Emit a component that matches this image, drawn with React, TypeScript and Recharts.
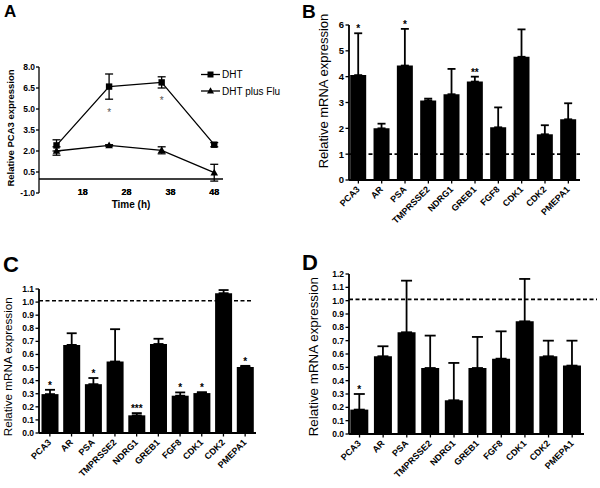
import React from 'react';
import {
  ComposedChart,
  Line,
  Bar,
  XAxis,
  YAxis,
  ErrorBar,
  ReferenceLine,
  LabelList,
} from 'recharts';

const FONT = '"Liberation Sans", Arial, Helvetica, sans-serif';

// ---------- Panel A ----------
const timeHours = [12, 24, 36, 48];
const dhtValues = [2.4, 6.6, 6.9, 2.45];
const dhtErrors = [0.4, 0.9, 0.4, 0.15];
const fluValues = [2.0, 2.4, 2.05, 0.45];
const fluErrors = [0.3, 0.05, 0.25, 0.6];
const starLevels: (number | null)[] = [null, 4.9, 5.8, null];
const timeTicks = [18, 28, 38, 48];
const pca3Ticks = [-1, 0.5, 2, 3.5, 5, 6.5, 8];
const seriesNames = ['DHT', 'DHT plus Flu'];

// ---------- Panels B, C, D ----------
const genes = ['PCA3', 'AR', 'PSA', 'TMPRSSE2', 'NDRG1', 'GREB1', 'FGF8', 'CDK1', 'CDK2', 'PMEPA1'];

const bValues = [4.06, 2.0, 4.43, 3.08, 3.32, 3.81, 2.04, 4.77, 1.77, 2.35];
const bErrTops = [5.68, 2.18, 5.85, 3.15, 4.3, 4.0, 2.81, 5.83, 2.12, 2.97];
const bStars = ['*', '', '*', '', '', '**', '', '', '', ''];
const bTicks = [0, 1, 2, 3, 4, 5, 6];

const cValues = [0.297, 0.673, 0.373, 0.546, 0.135, 0.68, 0.285, 0.305, 1.068, 0.505];
const cErrTops = [0.33, 0.762, 0.42, 0.793, 0.152, 0.72, 0.31, 0.312, 1.092, 0.513];
const cStars = ['*', '', '*', '', '***', '', '*', '*', '', '*'];
const cTicks = [0, 0.1, 0.2, 0.3, 0.4, 0.5, 0.6, 0.7, 0.8, 0.9, 1.0, 1.1];

const dValues = [0.183, 0.583, 0.763, 0.495, 0.253, 0.495, 0.565, 0.845, 0.583, 0.513];
const dErrTops = [0.3, 0.658, 1.15, 0.738, 0.533, 0.728, 0.77, 1.163, 0.7, 0.7];
const dStars = ['*', '', '', '', '', '', '', '', '', ''];
const dTicks = [0, 0.1, 0.2, 0.3, 0.4, 0.5, 0.6, 0.7, 0.8, 0.9, 1.0, 1.1, 1.2];

const aData = timeHours.map((t, i) => ({
  time: t,
  dht: dhtValues[i],
  dhtErr: dhtErrors[i],
  flu: fluValues[i],
  fluErr: fluErrors[i],
  star: starLevels[i],
}));

const SquareDot = (p: any) => {
  if (p.cx == null || p.cy == null) return null;
  return <rect key={'s' + p.index} x={p.cx - 3.2} y={p.cy - 3.2} width={6.4} height={6.4} fill="#000" />;
};
const TriangleDot = (p: any) => {
  if (p.cx == null || p.cy == null) return null;
  const { cx, cy } = p;
  return (
    <polygon
      key={'t' + p.index}
      points={`${cx},${cy - 4} ${cx - 3.8},${cy + 2.8} ${cx + 3.8},${cy + 2.8}`}
      fill="#000"
    />
  );
};
const AsteriskDot = (p: any) => {
  if (p.cx == null || p.cy == null || p.value == null || Number.isNaN(p.cy)) return null;
  return (
    <text key={'a' + p.index} x={p.cx} y={p.cy + 5.8} textAnchor="middle" fontSize={10} fill="#555" fontFamily={FONT}>
      *
    </text>
  );
};

// tick y from recharts = axisY + tickSize(6) + tickMargin(2); baseline wanted ~1.5px below plot bottom
const renderTimeTick = (p: any) => (
  <text
    key={'tt' + p.index + '-' + p.payload.value}
    x={p.x}
    y={p.y - 6.5}
    textAnchor="middle"
    fontSize={9}
    fontWeight="bold"
    fontFamily={FONT}
    fill="#000"
  >
    {String(p.payload.value)}
  </text>
);

const timeLabel = (t: number) => (p: any) => {
  const vb = p.viewBox || {};
  if (vb.x == null) return null;
  return (
    <text
      x={vb.x}
      y={vb.y + vb.height + 1.5}
      textAnchor="middle"
      fontSize={9}
      fontWeight="bold"
      fontFamily={FONT}
      fill="#000"
    >
      {String(t)}
    </text>
  );
};

function PanelA() {
  return (
    <div style={{ position: 'absolute', left: 0, top: 0 }}>
      <ComposedChart width={300} height={230} data={aData} margin={{ top: 67, right: 77, left: 0, bottom: 0 }}>
        <XAxis
          dataKey="time"
          type="number"
          domain={[8, 50]}
          axisLine={false}
          tickLine={false}
          tick={false}
          height={37}
        />
        <YAxis
          type="number"
          domain={[-1, 8]}
          ticks={pca3Ticks}
          interval={0}
          width={39}
          tickFormatter={(v: number) => v.toFixed(1)}
          tick={{ fontSize: 8.5, fontWeight: 'bold', fill: '#000', fontFamily: FONT }}
          tickSize={3}
          tickMargin={1}
          axisLine={{ stroke: '#000', strokeWidth: 1.3 }}
          tickLine={{ stroke: '#000', strokeWidth: 1.3 }}
        />
        <ReferenceLine y={0} stroke="#000" strokeWidth={1.3} />
        <Line
          dataKey="dht"
          name={seriesNames[0]}
          type="linear"
          stroke="#000"
          strokeWidth={1.3}
          dot={SquareDot}
          isAnimationActive={false}
        >
          <ErrorBar dataKey="dhtErr" direction="y" width={4} stroke="#000" strokeWidth={1.3} />
        </Line>
        <Line
          dataKey="flu"
          name={seriesNames[1]}
          type="linear"
          stroke="#000"
          strokeWidth={1.3}
          dot={TriangleDot}
          isAnimationActive={false}
        >
          <ErrorBar dataKey="fluErr" direction="y" width={4} stroke="#000" strokeWidth={1.3} />
        </Line>
        <Line
          dataKey="star"
          stroke="none"
          dot={AsteriskDot}
          activeDot={false}
          legendType="none"
          isAnimationActive={false}
        />
      </ComposedChart>
      {/* time axis labels, same geometry as the chart above */}
      <div style={{ position: 'absolute', left: 0, top: 0, pointerEvents: 'none' }}>
        <ComposedChart width={300} height={230} data={aData} margin={{ top: 67, right: 77, left: 39, bottom: 7 }}>
          <XAxis
            dataKey="time"
            type="number"
            domain={[8, 50]}
            ticks={timeTicks}
            interval={0}
            axisLine={{ stroke: 'none' }}
            tickLine={{ stroke: 'none' }}
            tick={renderTimeTick}
          />
          <YAxis type="number" domain={[-1, 8]} hide />
          <Line dataKey="dht" stroke="none" dot={false} activeDot={false} isAnimationActive={false} />
          {timeTicks.map((t) => (
            <ReferenceLine key={'rl' + t} x={t} stroke="none" label={timeLabel(t)} />
          ))}
        </ComposedChart>
      </div>
    </div>
  );
}

const GeneTick = (p: any) => {
  const ax = p.x + 2;
  const ay = p.y + 4.5;
  return (
    <text
      x={ax}
      y={ay}
      transform={`rotate(-45, ${ax}, ${ay})`}
      textAnchor="end"
      fontSize={9}
      fontWeight="bold"
      fontFamily={FONT}
      fill="#000"
    >
      {p.payload.value}
    </text>
  );
};

type BarPanelProps = {
  left: number;
  top: number;
  width: number;
  height: number;
  values: number[];
  errTops: number[];
  stars: string[];
  domain: [number, number];
  ticks: number[];
  fmt: (v: number) => string;
  margin: { top: number; right: number; left: number; bottom: number };
  yAxisWidth: number;
  xAxisHeight: number;
  padLeft: number;
  tickFont: number;
  gap: string;
  capHalf: number;
  refY: number;
  refExtend: number;
};

function BarPanel(props: BarPanelProps) {
  const { values, errTops, stars } = props;
  const data = genes.map((g, i) => ({ gene: g, value: values[i], err: [0, errTops[i] - values[i]] }));
  const renderStar = (p: any) => {
    const idx = p.index;
    const s = stars[idx];
    if (!s) return null;
    const x = Number(p.x);
    const y = Number(p.y);
    const w = Number(p.width);
    const h = Number(p.height);
    const unit = h / values[idx];
    const capY = y + h - errTops[idx] * unit;
    return (
      <text
        key={'star' + idx}
        x={x + w / 2}
        y={capY - 1}
        textAnchor="middle"
        fontSize={10}
        fontWeight="bold"
        fontFamily={FONT}
        fill="#000"
      >
        {s}
      </text>
    );
  };
  const ext = props.refExtend;
  return (
    <div style={{ position: 'absolute', left: props.left, top: props.top }}>
      <ComposedChart
        width={props.width}
        height={props.height}
        data={data}
        margin={props.margin}
        barCategoryGap={props.gap}
      >
        <XAxis
          dataKey="gene"
          type="category"
          interval={0}
          height={props.xAxisHeight}
          padding={{ left: props.padLeft, right: 0 }}
          tick={<GeneTick />}
          tickSize={3.5}
          tickMargin={2}
          axisLine={{ stroke: '#000', strokeWidth: 1.8 }}
          tickLine={{ stroke: '#000', strokeWidth: 1.3 }}
        />
        <YAxis
          type="number"
          domain={props.domain}
          ticks={props.ticks}
          interval={0}
          width={props.yAxisWidth}
          tickFormatter={props.fmt}
          tick={{ fontSize: props.tickFont, fontWeight: 'bold', fill: '#000', fontFamily: FONT }}
          tickSize={3.5}
          tickMargin={1.5}
          axisLine={{ stroke: '#000', strokeWidth: 1.8 }}
          tickLine={{ stroke: '#000', strokeWidth: 1.3 }}
          allowDataOverflow
        />
        <Bar dataKey="value" fill="#000" isAnimationActive={false}>
          <ErrorBar dataKey="err" direction="y" width={props.capHalf} stroke="#000" strokeWidth={1.8} />
          <LabelList dataKey="value" content={renderStar} />
        </Bar>
        <ReferenceLine
          y={props.refY}
          stroke="#000"
          strokeWidth={1.6}
          strokeDasharray="4 2.5"
          shape={(p: any) => (
            <line
              x1={p.x1}
              y1={p.y1}
              x2={Number(p.x2) + ext}
              y2={p.y2}
              stroke="#000"
              strokeWidth={1.6}
              strokeDasharray="4 2.5"
            />
          )}
        />
      </ComposedChart>
    </div>
  );
}

const fmtInt = (v: number) => String(v);
const fmt1 = (v: number) => v.toFixed(1);

export default function App() {
  return (
    <div
      style={{
        position: 'absolute',
        left: 0,
        top: 0,
        width: 600,
        height: 488,
        background: '#fff',
        overflow: 'hidden',
        fontFamily: FONT,
      }}
    >
      <PanelA />
      <BarPanel
        left={300}
        top={0}
        width={300}
        height={230}
        values={bValues}
        errTops={bErrTops}
        stars={bStars}
        domain={[0, 6]}
        ticks={bTicks}
        fmt={fmtInt}
        margin={{ top: 25, right: 20, left: 0, bottom: 0 }}
        yAxisWidth={49}
        xAxisHeight={50}
        padLeft={-2.3}
        tickFont={9.5}
        gap="15%"
        capHalf={4}
        refY={1}
        refExtend={0}
      />
      <BarPanel
        left={0}
        top={240}
        width={300}
        height={248}
        values={cValues}
        errTops={cErrTops}
        stars={cStars}
        domain={[0, 1.1]}
        ticks={cTicks}
        fmt={fmt1}
        margin={{ top: 49, right: 44, left: 0, bottom: 0 }}
        yAxisWidth={39}
        xAxisHeight={55}
        padLeft={0}
        tickFont={8.5}
        gap="11.5%"
        capHalf={5}
        refY={1.01}
        refExtend={-3}
      />
      <BarPanel
        left={300}
        top={240}
        width={300}
        height={248}
        values={dValues}
        errTops={dErrTops}
        stars={dStars}
        domain={[0, 1.2]}
        ticks={dTicks}
        fmt={fmt1}
        margin={{ top: 34, right: 16, left: 0, bottom: 0 }}
        yAxisWidth={49}
        xAxisHeight={54}
        padLeft={-1.3}
        tickFont={8.5}
        gap="11%"
        capHalf={5.5}
        refY={1.01}
        refExtend={13}
      />
      <svg
        width={600}
        height={488}
        style={{ position: 'absolute', left: 0, top: 0, pointerEvents: 'none' }}
        fontFamily={FONT}
      >
        {/* Legend for panel A */}
        {seriesNames.map((n, i) => {
          const cy = 74.5 + i * 16.5;
          return (
            <g key={n}>
              <line x1={201} x2={220} y1={cy} y2={cy} stroke="#000" strokeWidth={1.3} />
              {i === 0 ? (
                <rect x={207.5} y={cy - 3} width={6} height={6} fill="#000" />
              ) : (
                <polygon points={`${210.5},${cy - 3.8} ${207},${cy + 2.6} ${214},${cy + 2.6}`} fill="#000" />
              )}
              <text x={222} y={cy + 3.6} fontSize={10} fill="#000">
                {n}
              </text>
            </g>
          );
        })}
        <text x={4} y={17} fontSize={17} fontWeight="bold" fill="#000">A</text>
        <text x={302} y={18} fontSize={19} fontWeight="bold" fill="#000">B</text>
        <text x={3} y={272} fontSize={22} fontWeight="bold" fill="#000">C</text>
        <text x={302} y={270} fontSize={22} fontWeight="bold" fill="#000">D</text>
        <text
          transform="translate(13.5,128) rotate(-90)"
          textAnchor="middle"
          fontSize={9.5}
          fontWeight="bold"
          fill="#000"
        >
          Relative PCA3 expression
        </text>
        <text x={131} y={207.5} textAnchor="middle" fontSize={10} fontWeight="bold" fill="#000">
          Time (h)
        </text>
        <text transform="translate(328,91) rotate(-90)" textAnchor="middle" fontSize={13} fill="#000">
          Relative mRNA expression
        </text>
        <text transform="translate(11.5,366.7) rotate(-90)" textAnchor="middle" fontSize={11.7} fill="#000">
          Relative mRNA expression
        </text>
        <text transform="translate(318,356.7) rotate(-90)" textAnchor="middle" fontSize={13.4} fill="#000">
          Relative mRNA expression
        </text>
      </svg>
    </div>
  );
}
